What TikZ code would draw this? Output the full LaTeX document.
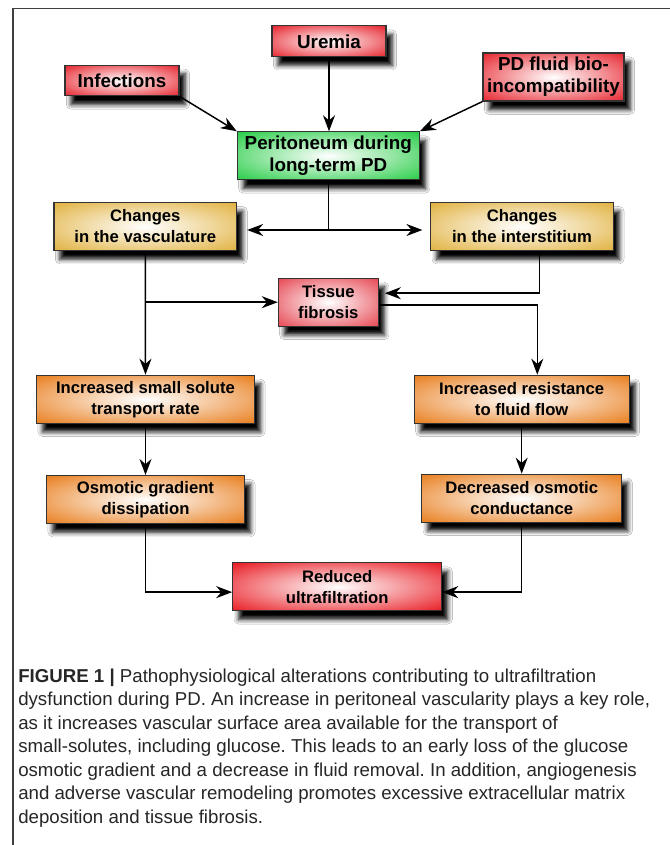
\documentclass[tikz,border=0pt]{standalone}
\usepackage{fontspec}
\setmainfont{Liberation Sans}
\usetikzlibrary{arrows.meta, shadows.blur}
\frenchspacing

\definecolor{boxred}{RGB}{230,32,42}
\definecolor{fibred}{RGB}{228,58,70}
\definecolor{ufred}{RGB}{232,24,32}
\definecolor{boxgreen}{RGB}{36,204,68}
\definecolor{boxgold}{RGB}{224,176,60}
\definecolor{boxorange}{RGB}{232,124,26}

% white centre fading to the box colour
\pgfdeclareradialshading{redglow}{\pgfpoint{0bp}{0bp}}{color(0bp)=(white); color(36bp)=(boxred); color(75bp)=(boxred)}
\pgfdeclareradialshading{fibglow}{\pgfpoint{0bp}{0bp}}{color(0bp)=(white); color(38bp)=(fibred); color(75bp)=(fibred)}
\pgfdeclareradialshading{ufglow}{\pgfpoint{0bp}{0bp}}{color(0bp)=(white); color(36bp)=(ufred); color(75bp)=(ufred)}
\pgfdeclareradialshading{greenglow}{\pgfpoint{0bp}{0bp}}{color(0bp)=(white); color(36bp)=(boxgreen); color(75bp)=(boxgreen)}
\pgfdeclareradialshading{goldglow}{\pgfpoint{0bp}{0bp}}{color(0bp)=(white); color(36bp)=(boxgold); color(75bp)=(boxgold)}
\pgfdeclareradialshading{orangeglow}{\pgfpoint{0bp}{0bp}}{color(0bp)=(white); color(36bp)=(boxorange); color(75bp)=(boxorange)}

\tikzset{
  box/.style={draw=black!80, line width=0.8pt, align=center, inner sep=2pt,
    minimum height=36pt, font=\bfseries\fontsize{12.5}{15.75}\selectfont,
    blur shadow={shadow xshift=4.5pt, shadow yshift=-6.5pt, shadow blur radius=3.5pt, shadow opacity=100}},
  bigbox/.style={box, font=\bfseries\fontsize{14.1}{16.7}\selectfont},
  redbox/.style={bigbox, shade, shading=redglow},
  greenbox/.style={bigbox, shade, shading=greenglow},
  goldbox/.style={box, shade, shading=goldglow},
  orangebox/.style={box, shade, shading=orangeglow},
  fibbox/.style={box, shade, shading=fibglow},
  ufbox/.style={box, shade, shading=ufglow},
  link/.style={line width=1.1pt}
}

\begin{document}
\begin{tikzpicture}[x=0.75pt, y=-0.75pt, >={Stealth[length=12pt, width=9pt]}]
    \useasboundingbox (0,0) rectangle (670,845);
    \fill[white] (0,0) rectangle (670,845);

    % frame
    \draw[black!75, line width=1.1pt] (13,845) -- (13,8.5) -- (670,8.5);

    % causes
    \node[redbox, minimum width=85.5pt, minimum height=23pt] (infect) at (122,80.5) {Infections};
    \node[redbox, minimum width=85.5pt, minimum height=23pt] (uremia) at (329,41.3) {Uremia};
    \node[redbox, minimum width=105.75pt] (bioinc) at (553.5,77) {PD fluid bio-\\incompatibility};
    \node[greenbox, minimum width=136.5pt] (perit) at (328.3,155.8) {Peritoneum during\\long-term PD};

    % changes
    \node[goldbox, minimum width=137pt] (vasc) at (145.3,226.5) {Changes\\in the vasculature};
    \node[goldbox, minimum width=137pt] (inter) at (522,226.5) {Changes\\in the interstitium};
    \node[fibbox, minimum width=75pt] (fibro) at (328.3,302.2) {Tissue\\fibrosis};

    % consequences
    \node[orangebox, minimum width=163.3pt] (solute) at (145.5,399.2) {Increased small solute\\transport rate};
    \node[orangebox, minimum width=161pt] (resist) at (521.7,399.2) {Increased resistance\\to fluid flow};
    \node[orangebox, minimum width=148.3pt] (gradient) at (145.5,499.5) {Osmotic gradient\\dissipation};
    \node[orangebox, minimum width=150pt] (condu) at (521.7,498.2) {Decreased osmotic\\conductance};
    \node[ufbox, minimum width=156.75pt] (ultra) at (337.2,586.8) {Reduced\\ultrafiltration};

    % connectors
    \draw[->, link] (infect.south east) -- (perit.north west);
    \draw[->, link] (uremia.south) -- (uremia.south |- perit.north);
    \draw[->, link] (bioinc.south west) -- (perit.north east);

    \coordinate (fork) at (328.3,230);
    \draw[link] (perit.south) -- (fork);
    \draw[->, link, shorten >=7.5pt] (fork) -- (fork -| vasc.east);
    \draw[->, link, shorten >=5.8pt] (fork) -- (fork -| inter.west);

    \draw[->, link] (vasc.south) -- (solute.north);
    \draw[->, link] (vasc.south |- fibro.west) -- (fibro.west);
    \draw[->, link, shorten >=4.5pt] ([xshift=13pt]inter.south) |- ([yshift=6.75pt]fibro.east);
    \draw[->, link] ([yshift=-2.25pt]fibro.east) -| ([xshift=11.7pt]resist.north);

    \draw[->, link] (solute.south) -- (gradient.north);
    \draw[->, link] (resist.south) -- (condu.north);
    \draw[->, link] (gradient.south) |- ([yshift=-4pt]ultra.west);
    \draw[->, link] (condu.south) |- ([yshift=-4pt]ultra.east);

    % caption (base anchor sits on the last line)
    \node[anchor=base west, align=left, inner sep=0pt, text=black!85,
      font=\fontsize{14}{17.6}\selectfont] (caption) at (18,823)
      {\textbf{FIGURE 1 |} Pathophysiological alterations contributing to ultrafiltration\\
       dysfunction during PD. An increase in peritoneal vascularity plays a key role,\\
       as it increases vascular surface area available for the transport of\\
       small-solutes, including glucose. This leads to an early loss of the glucose\\
       osmotic gradient and a decrease in fluid removal. In addition, angiogenesis\\
       and adverse vascular remodeling promotes excessive extracellular matrix\\
       deposition and tissue fibrosis.};
\end{tikzpicture}
\end{document}
